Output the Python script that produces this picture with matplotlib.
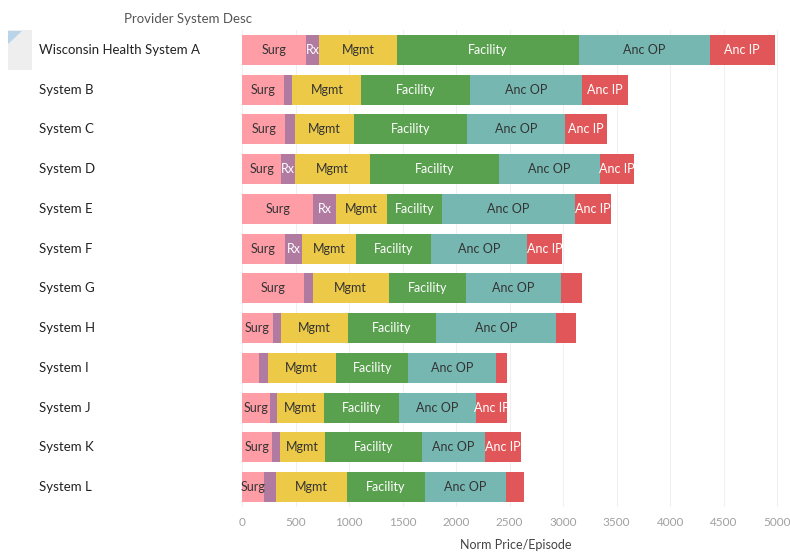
import matplotlib

matplotlib.use("Agg")
import matplotlib.pyplot as plt
from matplotlib import transforms
from matplotlib.patches import Polygon, Rectangle

plt.rcParams["font.family"] = ["Lato", "DejaVu Sans"]

systems = ["Wisconsin Health System A", "System B", "System C", "System D", "System E",
           "System F", "System G", "System H", "System I", "System J", "System K", "System L"]
categories = ["Surg", "Rx", "Mgmt", "Facility", "Anc OP", "Anc IP"]
surg = [594, 388, 405, 365, 664, 398, 581, 288, 155, 261, 278, 204]
rx = [127, 83, 93, 129, 214, 163, 80, 80, 83, 64, 76, 110]
mgmt = [723, 643, 550, 704, 476, 500, 709, 623, 640, 439, 424, 666]
facility = [1709, 1013, 1056, 1205, 516, 702, 723, 820, 676, 703, 902, 727]
anc_op = [1216, 1049, 916, 940, 1240, 900, 887, 1119, 823, 717, 587, 759]
anc_ip = [607, 427, 390, 323, 333, 323, 196, 189, 100, 293, 336, 164]
ticks = [0, 500, 1000, 1500, 2000, 2500, 3000, 3500, 4000, 4500, 5000]

series = [surg, rx, mgmt, facility, anc_op, anc_ip]
colors = ["#FF9DA7", "#B07AA1", "#EDC948", "#59A14F", "#76B7B2", "#E15759"]
text_colors = ["#333333", "white", "#333333", "white", "#333333", "white"]
min_label = [180, 120, 0, 0, 0, 250]

fig = plt.figure(figsize=(7.9, 5.52), dpi=100)
ax = fig.add_axes([241 / 790, 1 - 507 / 552, 549 / 790, 477 / 552])

rows = list(range(len(systems)))
left = [0] * len(systems)
for values, color, tcolor, minimum, name in zip(series, colors, text_colors, min_label, categories):
    ax.barh(rows, values, left=left, height=0.76, color=color, zorder=2)
    for row, (start, width) in enumerate(zip(left, values)):
        if width >= minimum:
            ax.text(start + width / 2, row, name, ha="center", va="center",
                    color=tcolor, fontsize=9, zorder=3)
    left = [a + b for a, b in zip(left, values)]

ax.set_ylim(len(systems) - 0.5, -0.5)
ax.set_xlim(-10, 5120)
ax.set_xticks(ticks)
ax.set_xticklabels([str(t) for t in ticks])
ax.set_yticks([])
ax.tick_params(axis="x", length=0, pad=7, labelsize=8.5, labelcolor="#a0a0a0")
ax.grid(axis="x", color="#f0f0f0", linewidth=0.8, zorder=0)
for spine in ax.spines.values():
    spine.set_visible(False)
ax.set_xlabel("Norm Price/Episode", fontsize=9, color="#444444", labelpad=8)

# row header area
trans = transforms.blended_transform_factory(fig.transFigure, ax.transData)
fig.patches.append(Rectangle((8 / 790, 1 - 70 / 552), 232 / 790, 40 / 552,
                             transform=fig.transFigure, facecolor="#eeeeee", edgecolor="none"))
fig.patches.append(Rectangle((32 / 790, 1 - 70 / 552), 208 / 790, 40 / 552,
                             transform=fig.transFigure, facecolor="white", edgecolor="none"))
fig.patches.append(Polygon([(8 / 790, 1 - 31 / 552), (22 / 790, 1 - 31 / 552), (8 / 790, 1 - 44 / 552)],
                           transform=fig.transFigure, facecolor="#b9d3e8", edgecolor="none"))
for row, name in enumerate(systems):
    fig.text(39 / 790, 0, name, transform=trans, ha="left", va="center",
             fontsize=9.5, color="#222222")
    fig.texts[-1].set_y(row)
fig.text(188 / 790, 1 - 19 / 552, "Provider System Desc", ha="center", va="center",
         fontsize=9.5, color="#555555")

fig.savefig("out.png", dpi=100)
